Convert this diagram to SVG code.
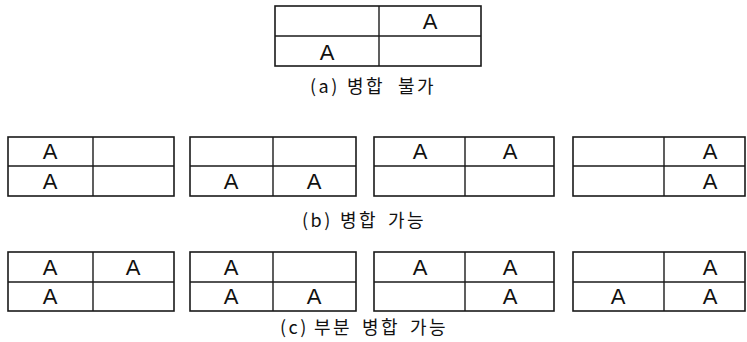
<svg xmlns="http://www.w3.org/2000/svg" width="747" height="342" viewBox="0 0 747 342">
<style>
.box{fill:none;stroke:#1a1a1a;stroke-width:1.6}
.div{stroke:#1a1a1a;stroke-width:1.4}
.a{font-family:"Liberation Sans","DejaVu Sans",sans-serif;font-size:22px;fill:#111;text-anchor:middle}
.cap{font-family:"Noto Sans CJK KR","Noto Sans",sans-serif;font-size:18px;fill:#111;letter-spacing:2.5px}
</style>
<rect width="747" height="342" fill="#fff"/>
<g id="box-a">
<rect class="box" x="275" y="6" width="206" height="60"/>
<line class="div" x1="275" y1="36" x2="481" y2="36"/>
<line class="div" x1="379" y1="6" x2="379" y2="66"/>
<text class="a" x="430" y="29">A</text>
<text class="a" x="327" y="60">A</text>
</g>
<text class="cap" y="93"><tspan x="310">(a) </tspan><tspan x="347">병합 </tspan><tspan x="398">불가</tspan></text>
<g id="box-b1">
<rect class="box" x="8" y="137" width="166" height="59"/>
<line class="div" x1="8" y1="166" x2="174" y2="166"/>
<line class="div" x1="93" y1="137" x2="93" y2="196"/>
<text class="a" x="50" y="159">A</text>
<text class="a" x="50" y="189">A</text>
</g>
<g id="box-b2">
<rect class="box" x="190" y="137" width="166" height="59"/>
<line class="div" x1="190" y1="166" x2="356" y2="166"/>
<line class="div" x1="273" y1="137" x2="273" y2="196"/>
<text class="a" x="231" y="189">A</text>
<text class="a" x="314" y="189">A</text>
</g>
<g id="box-b3">
<rect class="box" x="374" y="137" width="180" height="59"/>
<line class="div" x1="374" y1="166" x2="554" y2="166"/>
<line class="div" x1="465" y1="137" x2="465" y2="196"/>
<text class="a" x="420" y="159">A</text>
<text class="a" x="510" y="159">A</text>
</g>
<g id="box-b4">
<rect class="box" x="573" y="137" width="172" height="59"/>
<line class="div" x1="573" y1="166" x2="745" y2="166"/>
<line class="div" x1="664" y1="137" x2="664" y2="196"/>
<text class="a" x="710" y="159">A</text>
<text class="a" x="710" y="189">A</text>
</g>
<text class="cap" y="227"><tspan x="302">(b) </tspan><tspan x="340">병합 </tspan><tspan x="388">가능</tspan></text>
<g id="box-c1">
<rect class="box" x="8" y="252" width="166" height="59"/>
<line class="div" x1="8" y1="282" x2="174" y2="282"/>
<line class="div" x1="93" y1="252" x2="93" y2="311"/>
<text class="a" x="50" y="275">A</text>
<text class="a" x="133" y="275">A</text>
<text class="a" x="50" y="304">A</text>
</g>
<g id="box-c2">
<rect class="box" x="190" y="252" width="166" height="59"/>
<line class="div" x1="190" y1="282" x2="356" y2="282"/>
<line class="div" x1="273" y1="252" x2="273" y2="311"/>
<text class="a" x="231" y="275">A</text>
<text class="a" x="231" y="304">A</text>
<text class="a" x="314" y="304">A</text>
</g>
<g id="box-c3">
<rect class="box" x="374" y="252" width="180" height="59"/>
<line class="div" x1="374" y1="282" x2="554" y2="282"/>
<line class="div" x1="465" y1="252" x2="465" y2="311"/>
<text class="a" x="420" y="275">A</text>
<text class="a" x="510" y="275">A</text>
<text class="a" x="510" y="304">A</text>
</g>
<g id="box-c4">
<rect class="box" x="573" y="252" width="172" height="59"/>
<line class="div" x1="573" y1="282" x2="745" y2="282"/>
<line class="div" x1="664" y1="252" x2="664" y2="311"/>
<text class="a" x="710" y="275">A</text>
<text class="a" x="618" y="304">A</text>
<text class="a" x="710" y="304">A</text>
</g>
<text class="cap" y="334"><tspan x="280">(c) </tspan><tspan x="314">부분 </tspan><tspan x="362">병합 </tspan><tspan x="410">가능</tspan></text>
<g id="connectors"/>
</svg>
